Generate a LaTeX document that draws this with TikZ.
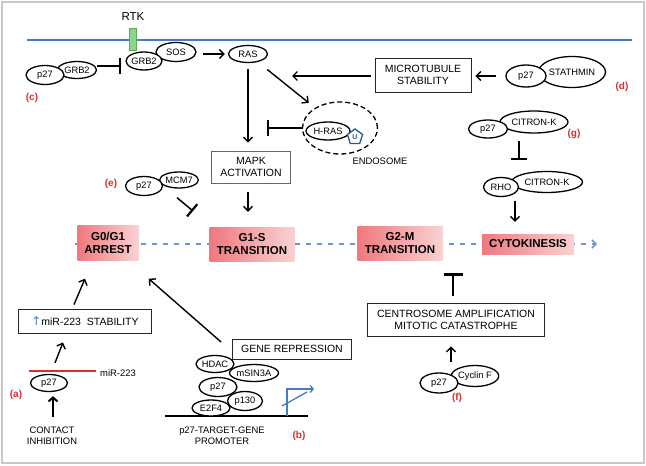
\documentclass[tikz,border=0pt]{standalone}
\usepackage{fontspec}
\setmainfont{Liberation Sans}
\newfontfamily\symfont{DejaVu Sans}
\usetikzlibrary{arrows.meta,shapes.geometric}
\definecolor{memblue}{RGB}{70,125,190}
\definecolor{dashblue}{RGB}{110,150,200}
\definecolor{tagred}{RGB}{218,45,45}
\definecolor{phaseL}{RGB}{239,120,126}
\definecolor{phaseR}{RGB}{250,210,210}
\definecolor{rtkgreen}{RGB}{140,214,140}
\definecolor{rtkedge}{RGB}{90,170,90}
\definecolor{ublue}{RGB}{40,90,140}
\definecolor{framegray}{RGB}{200,200,200}
\begin{document}
\begin{tikzpicture}[x=1pt,y=-1pt,
  prot/.style={ellipse, draw, line width=1.3pt, fill=white, inner sep=0pt, font=\fontsize{9.3}{10}\selectfont},
  lbox/.style={rectangle, draw=black!85, line width=0.9pt, fill=white, align=center, inner sep=0pt, font=\fontsize{10.5}{12.5}\selectfont},
  phase/.style={rectangle, left color=phaseL, right color=phaseR, draw=none, align=center, inner sep=0pt, font=\bfseries\fontsize{11.5}{13}\selectfont},
  tag/.style={text=tagred, font=\bfseries\fontsize{10}{12}\selectfont, inner sep=0pt},
  lbl/.style={align=center, inner sep=0pt, font=\fontsize{9.4}{11.5}\selectfont},
  arr/.style={line width=1.4pt, -{Straight Barb[length=4.5pt,width=9pt,line width=1.4pt]}},
  inh/.style={line width=1.5pt, -{Bar[width=16pt,line width=2.2pt]}}
]
\useasboundingbox (0,0) rectangle (646,466);
\draw[framegray, line width=2pt] (2,2) rectangle (644,463);

% membrane and RTK
\coordinate (m1) at (27,40);
\coordinate (m2) at (632,40);
\draw[memblue, line width=2pt] (m1) -- (m2);
\node[rectangle, draw=rtkedge, fill=rtkgreen, minimum width=7pt, minimum height=22pt, inner sep=0pt] (rtk) at (132.5,39) {};
\node[font=\fontsize{11.5}{13}\selectfont, inner sep=0pt] (rtklbl) at (133,17) {RTK};

% top row proteins
\node[prot, minimum width=40pt, minimum height=19pt] (sos) at (176,52) {SOS};
\node[prot, minimum width=36pt, minimum height=18pt] (grb2) at (144,61) {GRB2};
\node[prot, minimum width=39pt, minimum height=17pt] (ras) at (248,54) {RAS};
\node[prot, minimum width=39pt, minimum height=17pt] (grb2c) at (77,70) {GRB2};
\node[prot, minimum width=38pt, minimum height=19pt] (p27c) at (45,75) {p27};
\node[tag] (tc) at (32,98) {(c)};

\draw[arr, shorten <=6pt, shorten >=3pt] (sos.east |- ras) -- (ras.west);
\draw[inh, shorten >=4pt] ([yshift=4pt]grb2c.east) -- ([yshift=-5pt]grb2.west);

% endosome
\node[ellipse, draw, dashed, dash pattern=on 5pt off 3pt, line width=1.3pt, minimum width=75pt, minimum height=52pt, inner sep=0pt] (endo) at (340,128) {};
\node[prot, minimum width=44pt, minimum height=18pt] (hras) at (328,131) {H-RAS};
\node[regular polygon, regular polygon sides=5, draw=ublue, line width=1.3pt, fill=white, minimum size=16pt, inner sep=0pt, text=ublue, font=\bfseries\fontsize{7}{8}\selectfont] (ub) at (355,137) {U};
\node[lbl] (endolbl) at (380,161) {ENDOSOME};

% MAPK
\node[lbox, draw=black!60, minimum width=79pt, minimum height=32pt] (mapk) at (251,167) {MAPK\\ACTIVATION};
\draw[arr, shorten <=6pt, shorten >=8pt] (ras.south) -- (ras.south |- mapk.north);
\draw[arr, shorten <=12pt, shorten >=8pt] (ras) -- (endo);
\coordinate (hrasbar) at (267,128);
\draw[inh, shorten <=2pt] (hras.west |- hrasbar) -- (hrasbar);

% microtubule / stathmin
\node[lbox, minimum width=96pt, minimum height=34pt] (mt) at (423,75) {MICROTUBULE\\STABILITY};
\coordinate (mtend) at (292,76);
\draw[arr, shorten <=4pt] (mt.west |- mtend) -- (mtend);
\node[prot, minimum width=67pt, minimum height=31pt] (stath) at (572,72) {STATHMIN};
\node[prot, minimum width=40pt, minimum height=22pt] (p27d) at (526,76) {p27};
\node[tag] (td) at (622,87) {(d)};
\draw[arr, shorten <=9pt, shorten >=4pt] (p27d.west) -- (mt.east |- p27d.west);

% citron-K (g)
\node[prot, minimum width=68pt, minimum height=22pt] (citg) at (534,122) {CITRON-K};
\node[prot, minimum width=39pt, minimum height=18pt] (p27g) at (488,129) {p27};
\node[tag] (tg) at (574,134) {(g)};
\coordinate (gbar) at (519,160);
\draw[inh, shorten <=2pt] (gbar |- p27g.south) -- (gbar);
\node[prot, minimum width=71pt, minimum height=21pt] (cit2) at (547,182) {CITRON-K};
\node[prot, minimum width=35pt, minimum height=19pt] (rho) at (501,187) {RHO};

% MCM7 (e)
\node[prot, minimum width=36pt, minimum height=16pt] (mcm7) at (179,180) {MCM7};
\node[prot, minimum width=37pt, minimum height=19pt] (p27e) at (144,186) {p27};
\node[tag] (te) at (111,184) {(e)};
\coordinate (ebar) at (193,211);
\draw[inh] ([xshift=-2pt,yshift=-9pt]mcm7.south) -- (ebar);

% cell cycle line
\coordinate (dstart) at (75,244);
\coordinate (dend) at (597,244);
\draw[dashblue, line width=1.8pt, dash pattern=on 5pt off 6pt, -{Straight Barb[length=4pt,width=8pt,line width=1.5pt]}] (dstart) -- (dend);
\node[phase, minimum width=61pt, minimum height=35pt] (g0) at (108,243) {G0/G1\\ARREST};
\node[phase, minimum width=85pt, minimum height=34pt] (g1s) at (252,244) {G1-S\\TRANSITION};
\node[phase, minimum width=85pt, minimum height=34pt] (g2m) at (400,243) {G2-M\\TRANSITION};
\node[phase, minimum width=92pt, minimum height=20pt] (cyto) at (528,244) {CYTOKINESIS};

\draw[arr, shorten <=9pt, shorten >=15pt] ([xshift=-3pt]mapk.south) -- ([xshift=-3pt]mapk.south |- g1s.north);
\draw[arr, shorten <=4pt, shorten >=12pt] ([xshift=14pt]rho.south) -- ([xshift=14pt]rho.south |- cyto.north);

% (a) miR-223
\node[lbox, minimum width=133pt, minimum height=24pt] (mir) at (85,321) {{\color{memblue}\symfont\fontsize{12}{12}\selectfont ↑}miR-223\ \ STABILITY};
\draw[arr] ([xshift=-11pt,yshift=4pt]mir.north) -- ([xshift=-23pt,yshift=-18pt]g0.south);
\coordinate (ml1) at (29,371);
\coordinate (ml2) at (96,371);
\draw[tagred, line width=2pt] (ml1) -- (ml2);
\node[lbl] (mirlbl) at (118,373) {miR-223};
\node[prot, minimum width=37pt, minimum height=17pt] (p27a) at (49,383) {p27};
\draw[arr] ([xshift=6pt,yshift=11pt]p27a.north) -- ([xshift=-22pt,yshift=-9pt]mir.south);
\node[tag] (ta) at (16,395) {(a)};
\node[lbl] (contact) at (52,436) {CONTACT\\INHIBITION};
\draw[line width=2pt, -{Straight Barb[length=4pt,width=9pt,line width=2pt]}, shorten <=1pt, shorten >=4pt] ([xshift=1pt,yshift=9pt]contact.north) -- ([xshift=1pt]contact.north |- p27a.south);

% (b) gene repression
\node[lbox, minimum width=119pt, minimum height=20pt] (gene) at (292,349) {GENE REPRESSION};
\draw[arr] ([xshift=-11pt,yshift=7pt]gene.west) -- ([xshift=10pt,yshift=-18pt]g0.south east);
\coordinate (dna1) at (165,416);
\coordinate (dna2) at (308,416);
\draw[line width=2pt] (dna1) -- (dna2);
\node[prot, minimum width=48pt, minimum height=17pt] (msin) at (254,373) {mSIN3A};
\node[prot, minimum width=38pt, minimum height=17pt] (hdac) at (215,364) {HDAC};
\node[prot, minimum width=35pt, minimum height=19pt] (p130) at (245,401) {p130};
\node[prot, minimum width=38pt, minimum height=19pt] (p27b) at (218,387) {p27};
\node[prot, minimum width=38pt, minimum height=16pt] (e2f4) at (211,408) {E2F4};
\coordinate (pr1) at (287,416);
\coordinate (pr2) at (287,389);
\coordinate (pr3) at (314,389);
\coordinate (sl1) at (282,406);
\coordinate (sl2) at (307,392);
\draw[memblue, line width=1.3pt, -{Straight Barb[length=3pt,width=7pt,line width=1.3pt]}] (pr1) -- (pr2) -- (pr3);
\draw[memblue, line width=1.3pt] (sl1) -- (sl2);
\node[lbl] (prom) at (222,436) {p27-TARGET-GENE\\PROMOTER};
\node[tag] (tb) at (299,436) {(b)};

% (f) centrosome
\node[lbox, minimum width=177pt, minimum height=33pt] (cent) at (456,320) {CENTROSOME AMPLIFICATION\\MITOTIC CATASTROPHE};
\coordinate (tbar) at (453,273);
\draw[line width=2.5pt, -{Bar[width=19pt,line width=3pt]}, shorten <=7pt] (tbar |- cent.north) -- (tbar);
\node[prot, minimum width=44pt, minimum height=21pt] (cycf) at (475,376) {Cyclin F};
\node[prot, minimum width=38pt, minimum height=20pt] (p27f) at (439,383) {p27};
\node[tag] (tf) at (457,398) {(f)};
\draw[arr, shorten >=9.5pt] ([xshift=12pt,yshift=10pt]p27f.north) -- ([xshift=12pt]p27f.north |- cent.south);
\end{tikzpicture}
\end{document}
